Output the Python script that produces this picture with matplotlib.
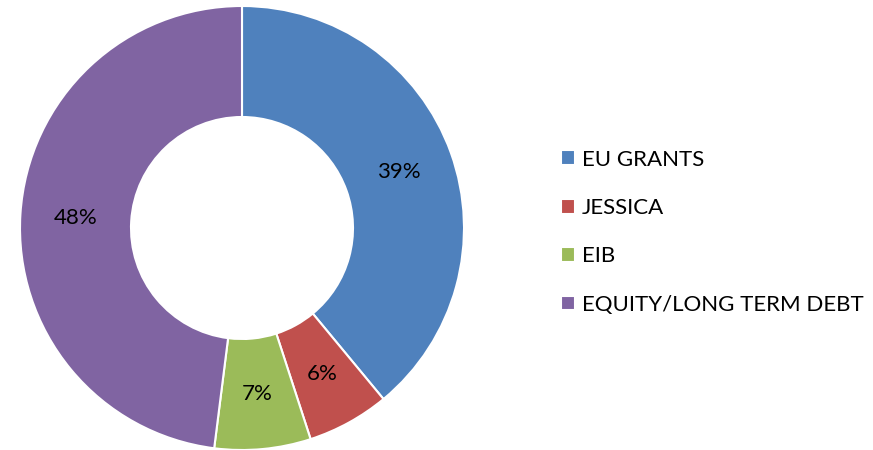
import matplotlib
matplotlib.use("Agg")
import matplotlib.pyplot as plt

# funding split
labels = ["EU GRANTS", "JESSICA", "EIB", "EQUITY/LONG TERM DEBT"]
shares = [39, 6, 7, 48]
colors = ["#4F81BD", "#C0504D", "#9BBB59", "#8064A2"]

plt.rcParams["font.family"] = ["Lato", "DejaVu Sans"]

fig = plt.figure(figsize=(8.73, 4.5), dpi=100)
ax = fig.add_axes([20 / 873, 0.0, 444 / 873, 444 / 450])

wedges, texts, autotexts = ax.pie(
    shares,
    colors=colors,
    startangle=90,
    counterclock=False,
    radius=1.0,
    autopct="%1.0f%%",
    pctdistance=0.75,
    wedgeprops=dict(width=0.5, edgecolor="white", linewidth=1.5),
    textprops=dict(fontsize=16, color="black"),
)
ax.set_xlim(-1, 1)
ax.set_ylim(-1, 1)
ax.set_aspect("equal")

leg = fig.legend(
    wedges,
    labels,
    loc="center left",
    bbox_to_anchor=(541 / 873, 0.484),
    frameon=False,
    fontsize=16,
    handlelength=0.65,
    handleheight=0.65,
    handletextpad=0.3,
    labelspacing=1.28,
)

fig.savefig("out.png", dpi=100)
